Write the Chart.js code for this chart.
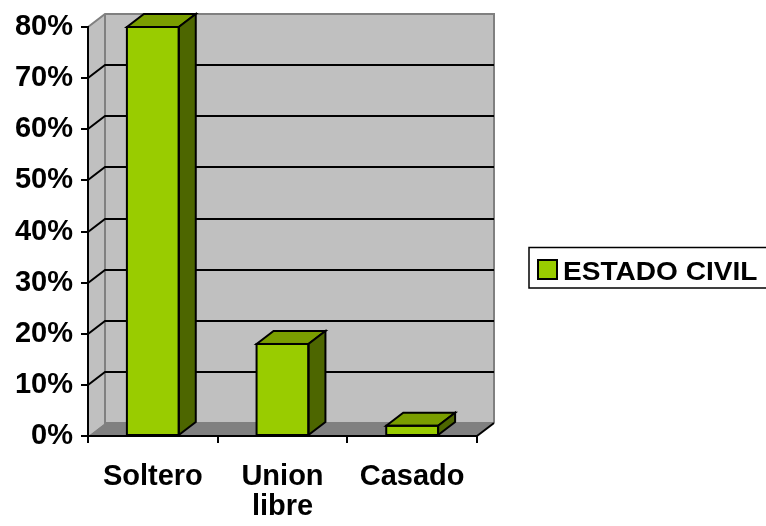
<!DOCTYPE html>
<html><head><meta charset="utf-8">
<script src="https://cdn.jsdelivr.net/npm/chart.js@4/dist/chart.umd.min.js"></script>
<style>html,body{margin:0;padding:0;background:#fff;} canvas{display:block;}</style>
</head><body>
<canvas id="c" width="766" height="526"></canvas>
<script>
const categories = ['Soltero', ['Union', 'libre'], 'Casado'];
const values = [80, 18, 2];
const seriesName = 'ESTADO CIVIL';
const yTicks = [0, 10, 20, 30, 40, 50, 60, 70, 80];

const DX = 17, DY = 13;
const FONT = "'Liberation Sans', Arial, sans-serif";
const FRONT = '#99cc00', TOP = '#7a9e00', SIDE = '#4d6600';

const threeD = {
  id: 'threeD',
  beforeDraw(chart) {
    const ctx = chart.ctx, a = chart.chartArea, y = chart.scales.y;
    const L = a.left, R = a.right, T = a.top, B = a.bottom;
    ctx.save();
    ctx.fillStyle = '#c0c0c0';
    ctx.fillRect(L + DX, T - DY, R - L, B - T);
    ctx.beginPath(); ctx.moveTo(L, T); ctx.lineTo(L + DX, T - DY); ctx.lineTo(L + DX, B - DY); ctx.lineTo(L, B); ctx.closePath(); ctx.fill();
    ctx.fillStyle = '#808080';
    ctx.beginPath(); ctx.moveTo(L, B); ctx.lineTo(L + DX, B - DY); ctx.lineTo(R + DX, B - DY); ctx.lineTo(R, B); ctx.closePath(); ctx.fill();
    ctx.strokeStyle = '#808080'; ctx.lineWidth = 2;
    ctx.beginPath(); ctx.moveTo(L, T); ctx.lineTo(L + DX, T - DY); ctx.lineTo(R + DX, T - DY); ctx.lineTo(R + DX, B - DY); ctx.stroke();
    ctx.beginPath(); ctx.moveTo(L + DX, T - DY); ctx.lineTo(L + DX, B - DY); ctx.lineTo(R + DX, B - DY); ctx.stroke();
    ctx.strokeStyle = '#000'; ctx.lineWidth = 2;
    yTicks.forEach(v => {
      if (v === 0 || v === 80) return;
      const py = Math.round(y.getPixelForValue(v));
      ctx.beginPath(); ctx.moveTo(L, py); ctx.lineTo(L + DX, py - DY); ctx.lineTo(R + DX, py - DY); ctx.stroke();
    });
    ctx.beginPath(); ctx.moveTo(R, B); ctx.lineTo(R + DX, B - DY); ctx.stroke();
    ctx.restore();
  },
  afterDatasetsDraw(chart) {
    const ctx = chart.ctx;
    const meta = chart.getDatasetMeta(0);
    ctx.save();
    ctx.strokeStyle = '#000'; ctx.lineWidth = 2; ctx.lineJoin = 'miter';
    meta.data.forEach(bar => {
      const l = bar.x - bar.width / 2, r = bar.x + bar.width / 2, t = bar.y, b = bar.base;
      ctx.fillStyle = TOP;
      ctx.beginPath(); ctx.moveTo(l, t); ctx.lineTo(l + DX, t - DY); ctx.lineTo(r + DX, t - DY); ctx.lineTo(r, t); ctx.closePath(); ctx.fill(); ctx.stroke();
      ctx.fillStyle = SIDE;
      ctx.beginPath(); ctx.moveTo(r, t); ctx.lineTo(r + DX, t - DY); ctx.lineTo(r + DX, b - DY); ctx.lineTo(r, b); ctx.closePath(); ctx.fill(); ctx.stroke();
      ctx.strokeRect(l, t, r - l, b - t);
    });
    ctx.restore();
  },
  afterDraw(chart) {
    const ctx = chart.ctx;
    ctx.save();
    ctx.strokeStyle = '#000'; ctx.lineWidth = 1.5;
    ctx.strokeRect(529, 247.5, 260, 40.5);
    ctx.fillStyle = FRONT; ctx.fillRect(538, 260, 19, 19);
    ctx.lineWidth = 2; ctx.strokeRect(538, 260, 19, 19);
    ctx.fillStyle = '#000';
    ctx.font = 'bold 26px ' + FONT;
    ctx.textBaseline = 'alphabetic';
    ctx.translate(563, 280);
    ctx.scale(1.08, 1);
    ctx.fillText(seriesName, 0, 0);
    ctx.restore();
  }
};

new Chart(document.getElementById('c'), {
  type: 'bar',
  data: {
    labels: categories,
    datasets: [{
      label: seriesName,
      data: values,
      backgroundColor: FRONT,
      borderColor: '#000',
      borderWidth: 0,
      borderSkipped: false,
      barPercentage: 0.4,
      categoryPercentage: 1
    }]
  },
  options: {
    responsive: false,
    animation: false,
    layout: { padding: { top: 27, right: 289, left: 0, bottom: 0 } },
    plugins: { legend: { display: false }, tooltip: { enabled: false } },
    scales: {
      x: {
        afterFit: s => { s.height = 90; },
        grid: { drawOnChartArea: false, drawTicks: true, tickLength: 7, color: '#000', lineWidth: 2, offset: true },
        border: { display: true, color: '#000', width: 2 },
        ticks: { color: '#000', font: { family: FONT, size: 29, weight: 'bold', lineHeight: 1.04 }, padding: 19, maxRotation: 0, autoSkip: false }
      },
      y: {
        min: 0, max: 80,
        afterFit: s => { s.width = 88; },
        afterBuildTicks: s => { s.ticks = yTicks.map(v => ({ value: v })); },
        grid: { drawOnChartArea: false, drawTicks: true, tickLength: 7, color: '#000', lineWidth: 2 },
        border: { display: true, color: '#000', width: 2 },
        ticks: { color: '#000', font: { family: FONT, size: 29, weight: 'bold' }, padding: 8, callback: v => v + '%' }
      }
    }
  },
  plugins: [threeD]
});
</script>
</body></html>
